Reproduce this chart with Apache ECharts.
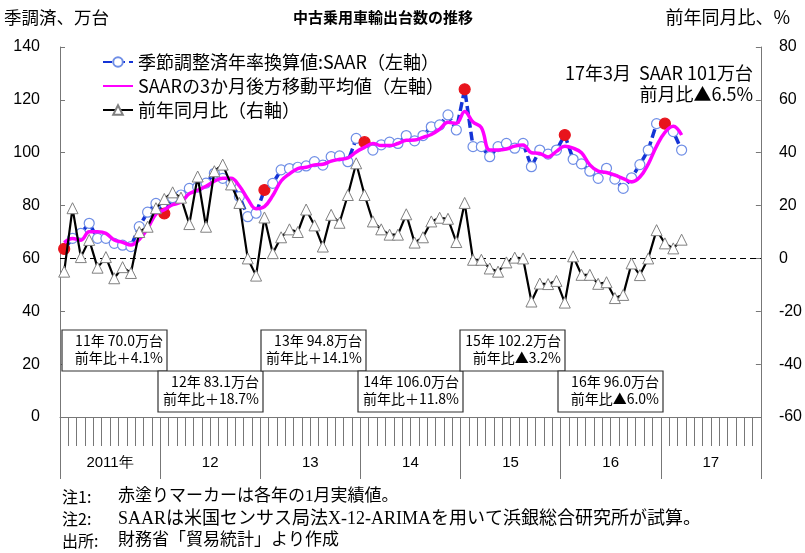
<!DOCTYPE html>
<html><head><meta charset="utf-8">
<script src="https://cdn.jsdelivr.net/npm/echarts@6/dist/echarts.min.js"></script>
<style>html,body{margin:0;padding:0;background:#fff}#c{width:805px;height:553px}</style>
</head><body><div id="c"></div>
<script>
// ---- data ----
const years = ['2011','2012','2013','2014','2015','2016','2017'];
const yearLabels = ['2011年','12','13','14','15','16','17'];
const monthsInYear = ['1','2','3','4','5','6','7','8','9','10','11','12'];
// SAAR (万台), Jan 2011 - Mar 2017
const saar = [
  63.6, 67.6, 69.5, 73.3, 67.6, 67.6, 65.7, 65.0, 64.5, 72.0, 77.5, 80.8,
  77.0, 83.0, 84.0, 86.5, 87.0, 88.5, 92.2, 90.3, 88.4, 83.4, 75.8, 77.1,
  85.9, 88.4, 93.5, 94.0, 94.5, 95.0, 96.6, 95.3, 98.5, 98.8, 96.6, 105.4,
  104.0, 101.0, 103.0, 104.0, 103.5, 106.5, 104.5, 106.5, 109.8, 110.5, 114.3, 108.6,
  124.0, 102.3, 102.3, 98.5, 102.3, 103.5, 101.7, 103.5, 94.7, 101.0, 99.5, 101.0,
  106.7, 97.5, 95.8, 93.0, 90.3, 94.1, 90.0, 86.5, 90.5, 95.5, 101.0, 111.0,
  111.0, 108.0, 101.0
];
// SAAR 3-month trailing moving average (万台)
const saarMA = [
  66.0, 67.5, 66.9, 70.1, 70.1, 69.5, 67.0, 66.1, 65.1, 67.2, 71.3, 76.8,
  78.4, 80.3, 81.3, 84.5, 85.8, 87.3, 89.2, 90.3, 90.3, 87.4, 82.5, 78.8,
  79.6, 83.8, 89.3, 92.0, 94.0, 94.5, 95.4, 95.6, 96.8, 97.5, 98.0, 100.3,
  102.0, 103.5, 102.7, 102.7, 103.5, 104.7, 104.8, 105.8, 106.9, 108.9, 111.5, 111.1,
  115.6, 111.6, 109.5, 101.0, 101.0, 101.4, 102.5, 102.9, 100.0, 99.7, 98.4, 100.5,
  102.4, 101.7, 100.0, 95.4, 93.0, 92.5, 91.5, 90.2, 89.0, 90.8, 95.7, 102.5,
  107.7, 110.0, 106.7
];
// year-on-year change (%), right axis
const yoy = [
  -5.0, 19.0, 0.5, 7.0, -3.5, 0.5, -7.5, -3.3, -5.5, 10.0, 12.0, 19.0,
  22.5, 25.0, 23.0, 13.0, 31.0, 12.0, 33.0, 35.5, 28.0, 21.0, 0.0, -6.5,
  15.5, 2.0, 8.0, 11.0, 10.0, 18.5, 12.5, 4.5, 16.5, 13.5, 24.0, 36.0,
  24.0, 14.0, 11.0, 9.0, 9.0, 16.7, 6.0, 8.0, 14.0, 15.4, 15.0, 6.2,
  21.0, -0.5, -0.5, -3.8, -5.0, -1.5, 0.3, 0.0, -16.3, -9.5, -9.7, -8.5,
  -16.7, 0.8, -6.2, -6.2, -9.6, -9.0, -15.0, -13.8, -1.9, -6.3, 0.0, 10.7,
  5.7, 3.8, 7.1
];
const leftTicks = {min: 0, max: 140, interval: 20};
const rightTicks = {min: -60, max: 80, interval: 20};
const seriesNames = ['季節調整済年率換算値:SAAR（左軸）', 'SAARの3か月後方移動平均値（左軸）', '前年同月比（右軸）'];
const annualNotes = [
  ['11年 70.0万台', '前年比＋4.1%'],
  ['12年 83.1万台', '前年比＋18.7%'],
  ['13年 94.8万台', '前年比＋14.1%'],
  ['14年 106.0万台', '前年比＋11.8%'],
  ['15年 102.2万台', '前年比▲3.2%'],
  ['16年 96.0万台', '前年比▲6.0%']
];
const latestNote = ['17年3月  SAAR 101万台', '前月比▲6.5%'];
const footnotes = [
  ['注1:', '赤塗りマーカーは各年の1月実績値。'],
  ['注2:', 'SAARは米国センサス局法X-12-ARIMAを用いて浜銀総合研究所が試算。'],
  ['出所:', '財務省「貿易統計」より作成']
];

// ---- chart ----
const months = [];
years.forEach(y => monthsInYear.forEach(m => months.push(y + '/' + m)));
const JP = '"Noto Sans CJK JP", sans-serif';
const FOOT = '"Liberation Serif", "Noto Sans CJK JP", serif';
const NUM = '"Liberation Sans", Arial, sans-serif';

const saarData = saar.map((v, i) => months[i].split('/')[1] === '1'
  ? {value: v, symbolSize: 11, itemStyle: {color: '#e8141c', borderColor: '#e8141c'}}
  : v);

const chart = echarts.init(document.getElementById('c'), null, {renderer: 'canvas'});

const T = (o) => Object.assign({fill: '#000'}, o);
const graphics = [];
// header texts
graphics.push({type: 'text', x: 4, y: 17, style: T({text: '季調済、万台', font: '17.5px ' + JP, align: 'left', textAlign: 'left', verticalAlign: 'middle', textVerticalAlign: 'middle'})});
graphics.push({type: 'text', x: 383, y: 17, style: T({text: '中古乗用車輸出台数の推移', font: 'bold 15px ' + JP, align: 'center', textAlign: 'center', verticalAlign: 'middle', textVerticalAlign: 'middle'})});
graphics.push({type: 'text', x: 790, y: 17, style: T({text: '前年同月比、%', font: '18px ' + JP, align: 'right', textAlign: 'right', verticalAlign: 'middle', textVerticalAlign: 'middle'})});
// latest note (right aligned inside plot)
graphics.push({type: 'text', x: 753, y: 73, style: T({text: latestNote[0], font: '18px ' + JP, align: 'right', textAlign: 'right', verticalAlign: 'middle', textVerticalAlign: 'middle'})});
graphics.push({type: 'text', x: 753, y: 94, style: T({text: latestNote[1], font: '18px ' + JP, align: 'right', textAlign: 'right', verticalAlign: 'middle', textVerticalAlign: 'middle'})});
// annual boxes
const boxPos = [[62,330],[158,371],[261,330],[358,371],[460,330],[558,371]];
annualNotes.forEach((n, k) => {
  const [bx, by] = boxPos[k];
  const w = 105, h = 41;
  graphics.push({type: 'rect', shape: {x: bx, y: by, width: w, height: h}, style: {fill: '#fff', stroke: '#333', lineWidth: 1.2}, z: 10});
  graphics.push({type: 'text', x: bx + w - 4, y: by + 11, z: 11,
    style: T({text: n[0], font: '14px ' + JP, align: 'right', textAlign: 'right', verticalAlign: 'middle', textVerticalAlign: 'middle'})});
  graphics.push({type: 'text', x: bx + w - 4, y: by + 28, z: 11,
    style: T({text: n[1], font: '14px ' + JP, align: 'right', textAlign: 'right', verticalAlign: 'middle', textVerticalAlign: 'middle'})});
});
// footnotes
const footSizes = [17, 18, 17];
footnotes.forEach((f, k) => {
  const y = 497 + k * 22;
  graphics.push({type: 'text', x: 62, y: y, style: T({text: f[0], font: '16px ' + JP, verticalAlign: 'middle', textVerticalAlign: 'middle'})});
  graphics.push({type: 'text', x: 118, y: y, style: T({text: f[1], font: footSizes[k] + 'px ' + FOOT, verticalAlign: 'middle', textVerticalAlign: 'middle'})});
});

chart.setOption({
  animation: false,
  backgroundColor: '#fff',
  grid: {left: 60, right: 43, top: 47, bottom: 136, containLabel: false},
  legend: {
    orient: 'vertical', left: 102, top: 53, padding: 0, itemWidth: 30, itemHeight: 12, itemGap: 6,
    data: [
      {name: seriesNames[0]},
      {name: seriesNames[1], itemStyle: {color: 'rgba(0,0,0,0)', borderWidth: 0, opacity: 0}},
      {name: seriesNames[2]}
    ],
    textStyle: {fontSize: 18, fontFamily: JP, color: '#000'}
  },
  xAxis: [
    {
      type: 'category', data: months, position: 'bottom', boundaryGap: true,
      axisLine: {show: true, onZero: false, lineStyle: {color: '#777', width: 1}},
      axisTick: {show: true, interval: 0, length: 29, lineStyle: {color: '#777', width: 1}},
      axisLabel: {show: false}, splitLine: {show: false}
    },
    {
      type: 'category', data: yearLabels, position: 'bottom', boundaryGap: true,
      axisLine: {show: false, onZero: false},
      axisTick: {show: true, interval: 0, length: 62, lineStyle: {color: '#777', width: 1}},
      axisLabel: {show: true, interval: 0, margin: 38, fontSize: 15, fontFamily: NUM, color: '#000'},
      splitLine: {show: false}
    }
  ],
  yAxis: [
    {
      type: 'value', position: 'left', min: leftTicks.min, max: leftTicks.max, interval: leftTicks.interval,
      axisLine: {show: true, lineStyle: {color: '#777'}},
      axisTick: {show: true, inside: true, length: 5, lineStyle: {color: '#777'}},
      axisLabel: {margin: 20, fontSize: 16, fontFamily: NUM, color: '#000'},
      splitLine: {show: false}
    },
    {
      type: 'value', position: 'right', min: rightTicks.min, max: rightTicks.max, interval: rightTicks.interval,
      axisLine: {show: true, lineStyle: {color: '#777'}},
      axisTick: {show: true, inside: true, length: 5, lineStyle: {color: '#777'}},
      axisLabel: {margin: 18, fontSize: 16, fontFamily: NUM, color: '#000'},
      splitLine: {show: false}
    }
  ],
  series: [
    {
      name: seriesNames[0], type: 'line', xAxisIndex: 0, yAxisIndex: 0, data: saarData,
      symbol: 'circle', symbolSize: 10, showAllSymbol: true,
      lineStyle: {color: '#1434d6', width: 3.5, type: [9, 4]},
      itemStyle: {color: '#fff', borderColor: '#6f8ee6', borderWidth: 1.2},
      z: 3
    },
    {
      name: seriesNames[1], type: 'line', xAxisIndex: 0, yAxisIndex: 0, data: saarMA,
      symbol: 'none', smooth: 0.4,
      lineStyle: {color: '#ff00ff', width: 3.5},
      itemStyle: {color: '#ff00ff'},
      z: 4
    },
    {
      name: seriesNames[2], type: 'line', xAxisIndex: 0, yAxisIndex: 1, data: yoy,
      symbol: 'triangle', symbolSize: 11, showAllSymbol: true,
      lineStyle: {color: '#000', width: 2.2},
      itemStyle: {color: '#fff', borderColor: '#808080', borderWidth: 1},
      markLine: {
        silent: true, symbol: 'none', label: {show: false},
        lineStyle: {color: '#000', type: [6, 4], width: 1.2},
        data: [{yAxis: 0}]
      },
      z: 5
    }
  ],
  graphic: graphics
});
</script></body></html>
